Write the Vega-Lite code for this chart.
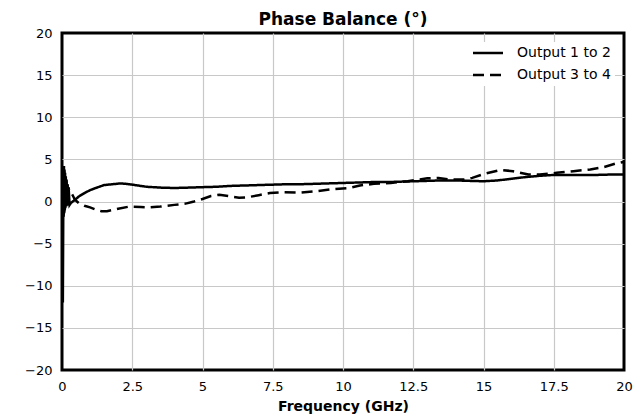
{
  "$schema": "https://vega.github.io/schema/vega-lite/v6.json",
  "autosize": {"type": "none"},
  "padding": {"left": 62, "top": 33, "right": 12, "bottom": 45},
  "width": 562,
  "height": 337,
  "config": {
    "font": "DejaVu Sans",
    "view": {"stroke": "black", "strokeWidth": 3},
    "axis": {"gridColor": "#c8c8c8", "gridWidth": 1.2, "ticks": false, "domain": false, "labelFontSize": 13, "labelColor": "black", "titleColor": "black"}
  },
  "title": {"text": "Phase Balance (°)", "fontSize": 17, "fontWeight": "bold", "color": "black", "offset": -2, "anchor": "middle"},
  "data": {"values": [
    {"f": 0.03, "v": -12, "s": "Output 1 to 2"},
    {"f": 0.04, "v": -5, "s": "Output 1 to 2"},
    {"f": 0.05, "v": 2.5, "s": "Output 1 to 2"},
    {"f": 0.06, "v": -1.8, "s": "Output 1 to 2"},
    {"f": 0.07, "v": 4.2, "s": "Output 1 to 2"},
    {"f": 0.08, "v": -1.4, "s": "Output 1 to 2"},
    {"f": 0.09, "v": 3.8, "s": "Output 1 to 2"},
    {"f": 0.1, "v": -1.0, "s": "Output 1 to 2"},
    {"f": 0.11, "v": 3.4, "s": "Output 1 to 2"},
    {"f": 0.12, "v": -0.8, "s": "Output 1 to 2"},
    {"f": 0.135, "v": 3.0, "s": "Output 1 to 2"},
    {"f": 0.15, "v": -0.6, "s": "Output 1 to 2"},
    {"f": 0.165, "v": 2.6, "s": "Output 1 to 2"},
    {"f": 0.18, "v": -0.5, "s": "Output 1 to 2"},
    {"f": 0.2, "v": 2.0, "s": "Output 1 to 2"},
    {"f": 0.22, "v": -0.4, "s": "Output 1 to 2"},
    {"f": 0.24, "v": 1.4, "s": "Output 1 to 2"},
    {"f": 0.27, "v": -0.4, "s": "Output 1 to 2"},
    {"f": 0.31, "v": -0.2, "s": "Output 1 to 2"},
    {"f": 0.38, "v": 0, "s": "Output 1 to 2"},
    {"f": 0.46, "v": 0.2, "s": "Output 1 to 2"},
    {"f": 0.6, "v": 0.6, "s": "Output 1 to 2"},
    {"f": 0.8, "v": 1.0, "s": "Output 1 to 2"},
    {"f": 1.0, "v": 1.35, "s": "Output 1 to 2"},
    {"f": 1.2, "v": 1.6, "s": "Output 1 to 2"},
    {"f": 1.5, "v": 1.95, "s": "Output 1 to 2"},
    {"f": 1.8, "v": 2.05, "s": "Output 1 to 2"},
    {"f": 2.1, "v": 2.15, "s": "Output 1 to 2"},
    {"f": 2.4, "v": 2.05, "s": "Output 1 to 2"},
    {"f": 2.7, "v": 1.9, "s": "Output 1 to 2"},
    {"f": 3.0, "v": 1.75, "s": "Output 1 to 2"},
    {"f": 3.5, "v": 1.65, "s": "Output 1 to 2"},
    {"f": 4.0, "v": 1.6, "s": "Output 1 to 2"},
    {"f": 4.5, "v": 1.65, "s": "Output 1 to 2"},
    {"f": 5.0, "v": 1.7, "s": "Output 1 to 2"},
    {"f": 5.5, "v": 1.75, "s": "Output 1 to 2"},
    {"f": 6.0, "v": 1.85, "s": "Output 1 to 2"},
    {"f": 6.5, "v": 1.9, "s": "Output 1 to 2"},
    {"f": 7.0, "v": 1.95, "s": "Output 1 to 2"},
    {"f": 7.5, "v": 2.0, "s": "Output 1 to 2"},
    {"f": 8.0, "v": 2.05, "s": "Output 1 to 2"},
    {"f": 8.5, "v": 2.05, "s": "Output 1 to 2"},
    {"f": 9.0, "v": 2.1, "s": "Output 1 to 2"},
    {"f": 9.5, "v": 2.15, "s": "Output 1 to 2"},
    {"f": 10.0, "v": 2.2, "s": "Output 1 to 2"},
    {"f": 10.5, "v": 2.25, "s": "Output 1 to 2"},
    {"f": 11.0, "v": 2.3, "s": "Output 1 to 2"},
    {"f": 11.5, "v": 2.3, "s": "Output 1 to 2"},
    {"f": 12.0, "v": 2.35, "s": "Output 1 to 2"},
    {"f": 12.5, "v": 2.4, "s": "Output 1 to 2"},
    {"f": 13.0, "v": 2.45, "s": "Output 1 to 2"},
    {"f": 13.5, "v": 2.5, "s": "Output 1 to 2"},
    {"f": 14.0, "v": 2.5, "s": "Output 1 to 2"},
    {"f": 14.5, "v": 2.45, "s": "Output 1 to 2"},
    {"f": 15.0, "v": 2.4, "s": "Output 1 to 2"},
    {"f": 15.5, "v": 2.5, "s": "Output 1 to 2"},
    {"f": 16.0, "v": 2.7, "s": "Output 1 to 2"},
    {"f": 16.5, "v": 2.9, "s": "Output 1 to 2"},
    {"f": 17.0, "v": 3.05, "s": "Output 1 to 2"},
    {"f": 17.5, "v": 3.15, "s": "Output 1 to 2"},
    {"f": 18.0, "v": 3.15, "s": "Output 1 to 2"},
    {"f": 18.5, "v": 3.15, "s": "Output 1 to 2"},
    {"f": 19.0, "v": 3.15, "s": "Output 1 to 2"},
    {"f": 19.5, "v": 3.2, "s": "Output 1 to 2"},
    {"f": 20.0, "v": 3.2, "s": "Output 1 to 2"},
    {"f": 0.03, "v": 3.5, "s": "Output 3 to 4"},
    {"f": 0.04, "v": -1.2, "s": "Output 3 to 4"},
    {"f": 0.05, "v": 4.0, "s": "Output 3 to 4"},
    {"f": 0.06, "v": -1.6, "s": "Output 3 to 4"},
    {"f": 0.075, "v": 3.6, "s": "Output 3 to 4"},
    {"f": 0.085, "v": -1.2, "s": "Output 3 to 4"},
    {"f": 0.1, "v": 3.2, "s": "Output 3 to 4"},
    {"f": 0.11, "v": -0.8, "s": "Output 3 to 4"},
    {"f": 0.125, "v": 2.9, "s": "Output 3 to 4"},
    {"f": 0.14, "v": -0.4, "s": "Output 3 to 4"},
    {"f": 0.155, "v": 2.5, "s": "Output 3 to 4"},
    {"f": 0.17, "v": 0, "s": "Output 3 to 4"},
    {"f": 0.19, "v": 2.1, "s": "Output 3 to 4"},
    {"f": 0.21, "v": 0.4, "s": "Output 3 to 4"},
    {"f": 0.23, "v": 1.7, "s": "Output 3 to 4"},
    {"f": 0.26, "v": 1.2, "s": "Output 3 to 4"},
    {"f": 0.3, "v": 1.2, "s": "Output 3 to 4"},
    {"f": 0.37, "v": 0.8, "s": "Output 3 to 4"},
    {"f": 0.46, "v": 0.2, "s": "Output 3 to 4"},
    {"f": 0.6, "v": -0.2, "s": "Output 3 to 4"},
    {"f": 0.8, "v": -0.5, "s": "Output 3 to 4"},
    {"f": 1.0, "v": -0.7, "s": "Output 3 to 4"},
    {"f": 1.2, "v": -0.95, "s": "Output 3 to 4"},
    {"f": 1.4, "v": -1.15, "s": "Output 3 to 4"},
    {"f": 1.6, "v": -1.15, "s": "Output 3 to 4"},
    {"f": 1.8, "v": -1.0, "s": "Output 3 to 4"},
    {"f": 2.0, "v": -0.85, "s": "Output 3 to 4"},
    {"f": 2.4, "v": -0.6, "s": "Output 3 to 4"},
    {"f": 2.8, "v": -0.65, "s": "Output 3 to 4"},
    {"f": 3.1, "v": -0.7, "s": "Output 3 to 4"},
    {"f": 3.5, "v": -0.6, "s": "Output 3 to 4"},
    {"f": 4.0, "v": -0.4, "s": "Output 3 to 4"},
    {"f": 4.4, "v": -0.25, "s": "Output 3 to 4"},
    {"f": 4.7, "v": 0, "s": "Output 3 to 4"},
    {"f": 5.0, "v": 0.3, "s": "Output 3 to 4"},
    {"f": 5.3, "v": 0.65, "s": "Output 3 to 4"},
    {"f": 5.6, "v": 0.8, "s": "Output 3 to 4"},
    {"f": 6.0, "v": 0.6, "s": "Output 3 to 4"},
    {"f": 6.3, "v": 0.45, "s": "Output 3 to 4"},
    {"f": 6.6, "v": 0.5, "s": "Output 3 to 4"},
    {"f": 7.0, "v": 0.75, "s": "Output 3 to 4"},
    {"f": 7.4, "v": 1.0, "s": "Output 3 to 4"},
    {"f": 7.8, "v": 1.1, "s": "Output 3 to 4"},
    {"f": 8.5, "v": 1.05, "s": "Output 3 to 4"},
    {"f": 9.0, "v": 1.2, "s": "Output 3 to 4"},
    {"f": 9.6, "v": 1.45, "s": "Output 3 to 4"},
    {"f": 10.2, "v": 1.6, "s": "Output 3 to 4"},
    {"f": 10.6, "v": 1.9, "s": "Output 3 to 4"},
    {"f": 11.1, "v": 2.1, "s": "Output 3 to 4"},
    {"f": 11.7, "v": 2.2, "s": "Output 3 to 4"},
    {"f": 12.3, "v": 2.4, "s": "Output 3 to 4"},
    {"f": 13.0, "v": 2.75, "s": "Output 3 to 4"},
    {"f": 13.4, "v": 2.8, "s": "Output 3 to 4"},
    {"f": 13.8, "v": 2.6, "s": "Output 3 to 4"},
    {"f": 14.3, "v": 2.6, "s": "Output 3 to 4"},
    {"f": 14.6, "v": 2.8, "s": "Output 3 to 4"},
    {"f": 15.0, "v": 3.25, "s": "Output 3 to 4"},
    {"f": 15.6, "v": 3.75, "s": "Output 3 to 4"},
    {"f": 16.05, "v": 3.6, "s": "Output 3 to 4"},
    {"f": 16.6, "v": 3.2, "s": "Output 3 to 4"},
    {"f": 17.0, "v": 3.2, "s": "Output 3 to 4"},
    {"f": 17.6, "v": 3.4, "s": "Output 3 to 4"},
    {"f": 18.2, "v": 3.6, "s": "Output 3 to 4"},
    {"f": 18.8, "v": 3.8, "s": "Output 3 to 4"},
    {"f": 19.3, "v": 4.1, "s": "Output 3 to 4"},
    {"f": 19.7, "v": 4.5, "s": "Output 3 to 4"},
    {"f": 20.0, "v": 4.7, "s": "Output 3 to 4"}
  ]},
  "mark": {"type": "line", "color": "black", "strokeWidth": 2.5},
  "encoding": {
    "x": {"field": "f", "type": "quantitative", "scale": {"domain": [0, 20], "nice": false}, "axis": {"values": [0, 2.5, 5, 7.5, 10, 12.5, 15, 17.5, 20], "format": ".1~f", "title": "Frequency (GHz)", "titleFontSize": 14, "titleFontWeight": "bold", "labelPadding": 10, "titlePadding": 6, "labelFlush": false, "gridOpacity": {"condition": {"test": "datum.value == 0 || datum.value == 20", "value": 0}, "value": 1}}},
    "y": {"field": "v", "type": "quantitative", "scale": {"domain": [-20, 20], "nice": false}, "axis": {"values": [-20, -15, -10, -5, 0, 5, 10, 15, 20], "title": null, "labelPadding": 10, "gridOpacity": {"condition": {"test": "abs(datum.value) == 20", "value": 0}, "value": 1}}},
    "strokeDash": {"field": "s", "type": "nominal", "scale": {"domain": ["Output 1 to 2", "Output 3 to 4"], "range": [[1, 0], [11, 6]]}, "legend": {"title": null, "orient": "none", "legendX": 415, "legendY": 9, "fillColor": "white", "padding": 4, "labelFontSize": 14, "labelColor": "black", "symbolType": "M-3,0H3", "symbolSize": 100, "symbolStrokeWidth": 2.5, "symbolStrokeColor": "black", "symbolFillColor": "transparent", "rowPadding": 8, "labelOffset": 22}}
  }
}
